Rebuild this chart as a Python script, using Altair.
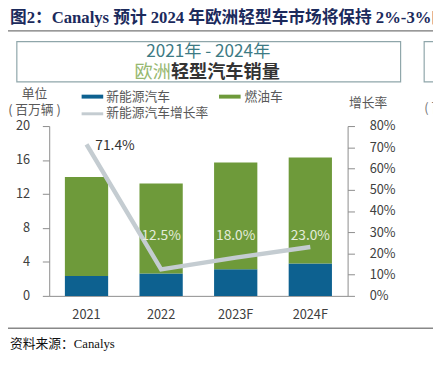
import altair as alt
import pandas as pd

CJK = "Noto Sans CJK SC"
SERIF = "Liberation Serif, Noto Sans CJK SC"

years = ["2021", "2022", "2023F", "2024F"]
nev = [2.35, 2.65, 3.15, 3.8]
fuel = [11.65, 10.6, 12.55, 12.5]
rate = [71.4, 12.5, 18.0, 23.0]
rate_labels = ["71.4%", "12.5%", "18.0%", "23.0%"]
series = ["新能源汽车", "燃油车"]
left_ticks = [0, 4, 8, 12, 16, 20]
right_ticks = [0, 10, 20, 30, 40, 50, 60, 70, 80]

C_NEV = "#0d6190"
C_FUEL = "#6e9a3a"
C_RATE = "#c4ccd1"

bars_df = pd.DataFrame({
    "year": years * 2,
    "series": [series[0]] * 4 + [series[1]] * 4,
    "value": nev + fuel,
    "order": [0] * 4 + [1] * 4,
})
rate_df = pd.DataFrame({"year": years, "rate": rate, "label": rate_labels})
one = pd.DataFrame({"a": [0]})

x_enc = alt.X(
    "year:N", sort=years,
    scale=alt.Scale(paddingInner=0.42, paddingOuter=0.21),
    axis=alt.Axis(title=None, labelAngle=0, ticks=False, domainColor="#8c8c8c",
                  labelPadding=13, labelFontSize=13, labelColor="#404040",
                  labelFont=CJK),
)

bars = alt.Chart(bars_df).mark_bar().encode(
    x=x_enc,
    y=alt.Y("value:Q", stack="zero", scale=alt.Scale(domain=[0, 20]),
            axis=alt.Axis(values=left_ticks, title=None, grid=False, tickSize=7,
                          labelPadding=13, labelOverlap=False,
                          domainColor="#8c8c8c", tickColor="#8c8c8c",
                          labelFontSize=13, labelColor="#404040", labelFont=CJK)),
    color=alt.Color("series:N", scale=alt.Scale(domain=series, range=[C_NEV, C_FUEL]),
                    legend=None),
    order=alt.Order("order:Q"),
)

right_axis = alt.Axis(orient="right", values=right_ticks, title=None, grid=False,
                      labelExpr="datum.value + '%'", tickSize=7, labelPadding=15,
                      labelOverlap=False,
                      domainColor="#8c8c8c", tickColor="#8c8c8c",
                      labelFontSize=13, labelColor="#404040", labelFont=CJK)
rate_scale = alt.Scale(domain=[0, 80])

line = alt.Chart(rate_df).mark_line(color=C_RATE, strokeWidth=4.5).encode(
    x=alt.X("year:N", sort=years),
    y=alt.Y("rate:Q", scale=rate_scale, axis=right_axis),
)

lab_first = alt.Chart(rate_df).transform_filter("datum.year == '2021'").mark_text(
    align="left", baseline="middle", dx=9, dy=2, fontSize=14, color="#333333", font=CJK
).encode(x=alt.X("year:N", sort=years),
         y=alt.Y("rate:Q", scale=rate_scale, axis=right_axis), text="label:N")

lab_rest = alt.Chart(rate_df).transform_filter("datum.year != '2021'").mark_text(
    align="center", baseline="middle", fontSize=14, color="#e4ecdb", font=CJK
).encode(x=alt.X("year:N", sort=years),
         y=alt.YDatum(28.2, scale=rate_scale, axis=right_axis), text="label:N")

rate_layer = alt.layer(line, lab_first, lab_rest)


def txt(s, x, y, size=13, color="#595959", align="left", weight="normal", font=CJK):
    return alt.Chart(one).mark_text(
        text=s, align=align, baseline="middle", fontSize=size, color=color,
        fontWeight=weight, font=font
    ).encode(x=alt.value(x), y=alt.value(y))


def box(x, x2, y, y2, fill=None, stroke=None, sw=1.0):
    kw = {}
    if fill is not None:
        kw["fill"] = fill
    else:
        kw["fillOpacity"] = 0
    if stroke is not None:
        kw["stroke"] = stroke
        kw["strokeWidth"] = sw
    return alt.Chart(one).mark_rect(**kw).encode(
        x=alt.value(x), x2=alt.value(x2), y=alt.value(y), y2=alt.value(y2))


def hrule(x, x2, y, color="#777777", sw=1.5):
    return alt.Chart(one).mark_rule(color=color, strokeWidth=sw).encode(
        x=alt.value(x), x2=alt.value(x2), y=alt.value(y))


decos = [
    txt("图2：Canalys 预计 2024 年欧洲轻型车市场将保持 2%-3%的增长", -40, -110,
        size=17, color="#1b2a5c", weight="bold", font=SERIF),
    hrule(-42, 395, -97),
    box(-33, 358, -86, -45, stroke="#8fa6aa", sw=1.2),
    box(382, 400, -86, -45, stroke="#8fa6aa", sw=1.2),
    txt("2021年  - 2024年", 162, -75, size=17.5, color="#3d7a84", align="center"),
    txt("欧洲", 87, -55, size=18.5, color="#97b870"),
    txt("轻型汽车销量", 124, -55, size=18.5, color="#333333", weight="bold"),
    box(33, 55, -32, -28, fill=C_NEV),
    txt("新能源汽车", 58, -30),
    box(173, 195, -32, -28, fill=C_FUEL),
    txt("燃油车", 199, -30),
    box(33, 55, -14, -11, fill=C_RATE),
    txt("新能源汽车增长率", 58, -13),
    txt("单位", -15, -33, align="center"),
    txt("( 百万辆 )", -15, -16, size=13, align="center"),
    txt("增长率", 325, -23, align="center"),
    txt("( 百万辆 )", 382, -18, color="#777777"),
    hrule(-42, 395, 206, color="#888888", sw=1.5),
    txt("资料来源：Canalys", -40, 222, size=13, color="#111111", font=SERIF),
]

chart = alt.layer(bars, rate_layer, *decos).resolve_scale(y="independent").properties(
    width=304, height=173,
    autosize=alt.AutoSizeParams(type="none"),
    padding={"left": 42, "top": 117, "right": 87, "bottom": 60},
    background="white",
).configure_view(stroke=None)

chart.save("out.html", embed_options={"renderer": "svg", "actions": False})
